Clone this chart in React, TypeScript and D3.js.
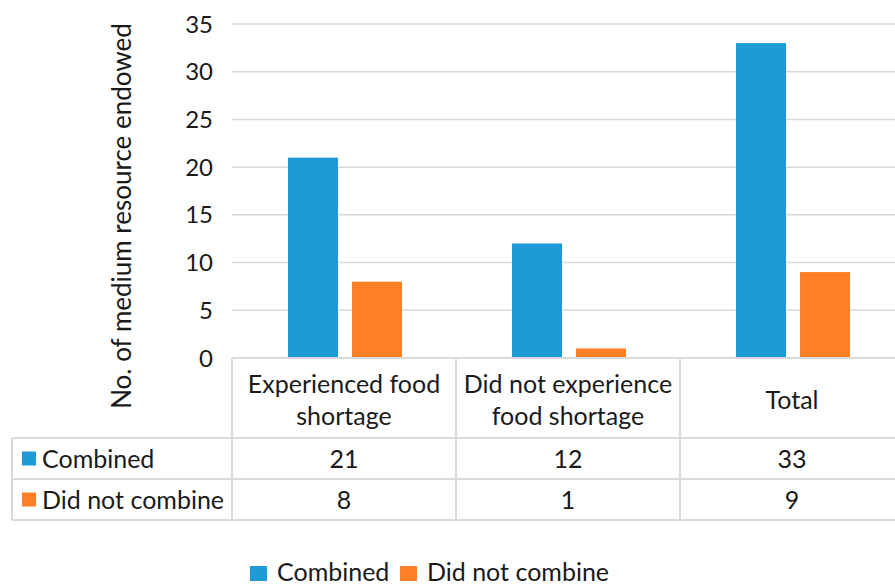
import React from "react";
import * as d3 from "d3";

const categories = ["Experienced food\nshortage", "Did not experience\nfood shortage", "Total"];
const seriesNames = ["Combined", "Did not combine"];
const combinedValues = [21, 12, 33];
const didNotCombineValues = [8, 1, 9];
const yTicks = [0, 5, 10, 15, 20, 25, 30, 35];
const colors = ["#1E9BD7", "#FF7F27"];

const W = 895;
const H = 586;
const FONT = "Lato, 'Open Sans', sans-serif";
const FS = 25;

export default function App() {
  const plotLeft = 232;
  const plotRight = 904;
  const y = d3.scaleLinear().domain([0, 35]).range([358, 24]);
  const x = d3.scaleBand<string>().domain(categories).range([plotLeft, plotRight]);
  const inner = d3
    .scaleBand<string>()
    .domain(seriesNames)
    .range([56, 170])
    .paddingInner(14 / 64);
  const values = [combinedValues, didNotCombineValues];

  const tableLeft = 12;
  const headerTop = y(0);
  const row1Top = 438;
  const row2Top = 479;
  const tableBottom = 520;
  const grid = "#D9D9D9";

  return (
    <svg width={W} height={H} style={{ position: "absolute", left: 0, top: 0, background: "#fff" }}>
      {/* gridlines */}
      {yTicks.filter((t) => t > 0).map((t) => (
        <line key={t} x1={plotLeft} x2={W} y1={y(t)} y2={y(t)} stroke={grid} strokeWidth={1.5} />
      ))}
      {/* y tick labels */}
      {yTicks.map((t) => (
        <text key={t} x={213} y={y(t) + 8.5} textAnchor="end" fontFamily={FONT} fontSize={24} fill="#1a1a1a">
          {t}
        </text>
      ))}
      {/* y axis title */}
      <text
        transform={`translate(131, 216) rotate(-90)`}
        textAnchor="middle"
        fontFamily={FONT}
        fontSize={26}
        fill="#1a1a1a"
      >
        No. of medium resource endowed
      </text>
      {/* bars */}
      {categories.map((c, ci) =>
        seriesNames.map((s, si) => (
          <rect
            key={c + s}
            x={(x(c) ?? 0) + (inner(s) ?? 0)}
            width={inner.bandwidth()}
            y={y(values[si][ci])}
            height={y(0) - y(values[si][ci])}
            fill={colors[si]}
          />
        ))
      )}
      {/* data table */}
      <g stroke={grid} strokeWidth={2} fill="none">
        <line x1={plotLeft} x2={W} y1={headerTop} y2={headerTop} />
        <line x1={tableLeft} x2={W} y1={row1Top} y2={row1Top} />
        <line x1={tableLeft} x2={W} y1={row2Top} y2={row2Top} />
        <line x1={tableLeft} x2={W} y1={tableBottom} y2={tableBottom} />
        <line x1={tableLeft} x2={tableLeft} y1={row1Top} y2={tableBottom} />
        {categories.map((c) => (
          <line key={c} x1={x(c)} x2={x(c)} y1={headerTop} y2={tableBottom} />
        ))}
      </g>
      {categories.map((c) => {
        const cx = (x(c) ?? 0) + x.bandwidth() / 2;
        const lines = c.split("\n");
        const mid = (headerTop + row1Top) / 2;
        return (
          <g key={c} fontFamily={FONT} fontSize={FS} fill="#1a1a1a" textAnchor="middle">
            {lines.map((l, li) => (
              <text key={l} x={cx} y={mid + 11 + (li - (lines.length - 1) / 2) * 32}>
                {l}
              </text>
            ))}
            {values.map((v, si) => (
              <text key={si} x={cx} y={(si === 0 ? (row1Top + row2Top) / 2 : (row2Top + tableBottom) / 2) + 9}>
                {v[categories.indexOf(c)]}
              </text>
            ))}
          </g>
        );
      })}
      {seriesNames.map((s, si) => {
        const cy = si === 0 ? (row1Top + row2Top) / 2 : (row2Top + tableBottom) / 2;
        return (
          <g key={s}>
            <rect x={22} y={cy - 7} width={14} height={14} fill={colors[si]} />
            <text x={42} y={cy + 9} fontFamily={FONT} fontSize={FS} fill="#1a1a1a">
              {s}
            </text>
          </g>
        );
      })}
      {/* legend */}
      <g>
        <rect x={250} y={566} width={17} height={15} fill={colors[0]} />
        <text x={277} y={581} fontFamily={FONT} fontSize={FS} fill="#1a1a1a">
          {seriesNames[0]}
        </text>
        <rect x={400} y={566} width={17} height={15} fill={colors[1]} />
        <text x={427} y={581} fontFamily={FONT} fontSize={FS} fill="#1a1a1a">
          {seriesNames[1]}
        </text>
      </g>
    </svg>
  );
}
